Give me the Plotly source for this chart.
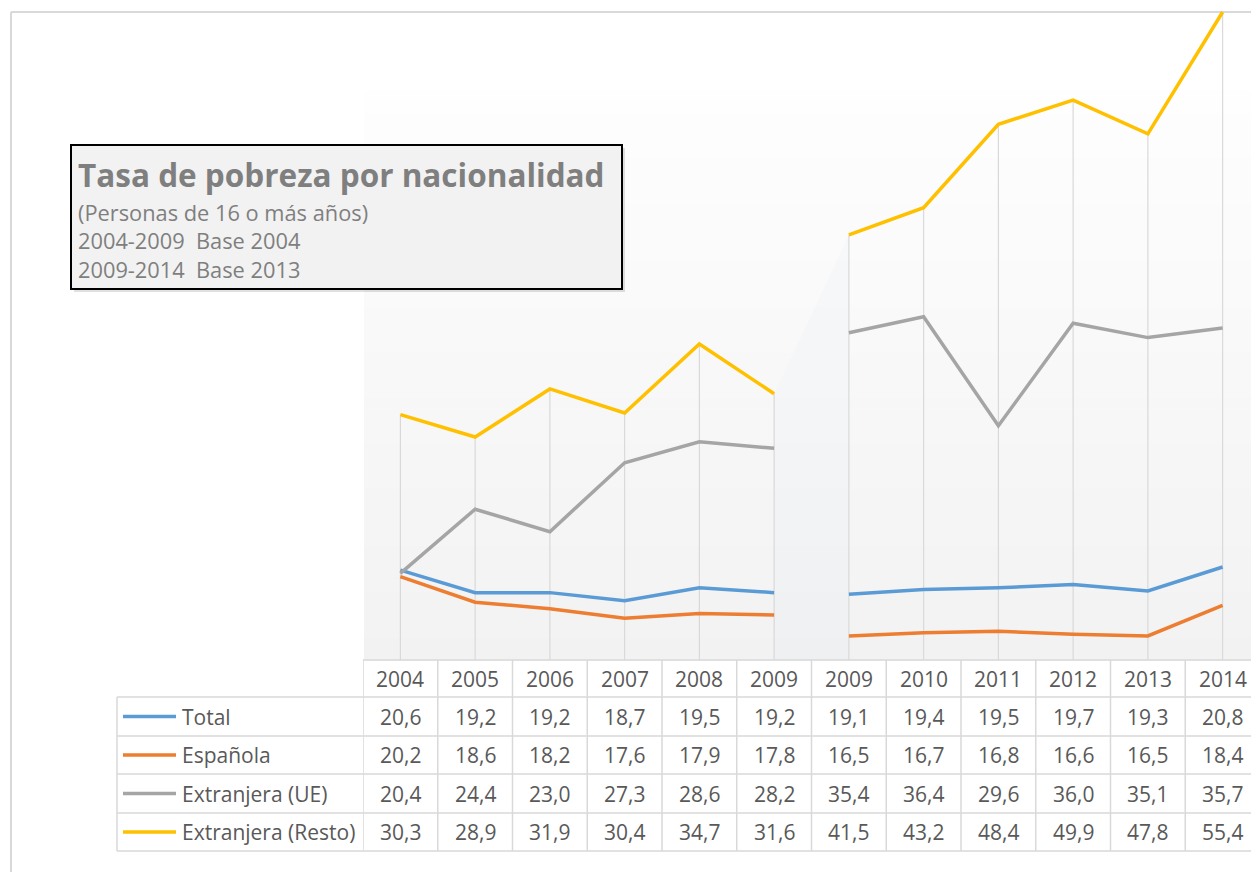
import plotly.graph_objects as go

# ---------------- data ----------------
years = ["2004", "2005", "2006", "2007", "2008", "2009",
         "2009", "2010", "2011", "2012", "2013", "2014"]
series_names = ["Total", "Española", "Extranjera (UE)", "Extranjera (Resto)"]
total = [20.6, 19.2, 19.2, 18.7, 19.5, 19.2, 19.1, 19.4, 19.5, 19.7, 19.3, 20.8]
espanola = [20.2, 18.6, 18.2, 17.6, 17.9, 17.8, 16.5, 16.7, 16.8, 16.6, 16.5, 18.4]
ext_ue = [20.4, 24.4, 23.0, 27.3, 28.6, 28.2, 35.4, 36.4, 29.6, 36.0, 35.1, 35.7]
ext_resto = [30.3, 28.9, 31.9, 30.4, 34.7, 31.6, 41.5, 43.2, 48.4, 49.9, 47.8, 55.4]
segments = [(0, 6), (6, 12)]  # 2004-2009 base 2004 | 2009-2014 base 2013

title_lines = ["Tasa de pobreza por nacionalidad",
               "(Personas de 16 o más años)",
               "2004-2009\u00a0 Base 2004",
               "2009-2014\u00a0 Base 2013"]

# ---------------- styling ----------------
W, H = 1251, 872
colors = ["#5B9BD5", "#ED7D31", "#A5A5A5", "#FFC000"]
values = [total, espanola, ext_ue, ext_resto]
FONT = "Open Sans"
TXT = "#595959"
GRID = "#D9D9D9"
TS = 21  # table font size
LW = 3.5

plot_left, plot_right = 363, W
plot_top, plot_bottom = 5, 660
col_w = 74.75
px_per_unit = 16.04
y_min = 15.0
y_max = y_min + (plot_bottom - plot_top) / px_per_unit
x_lo = -0.5
x_hi = x_lo + (plot_right - plot_left) / col_w

def px(xp):
    return xp / W

def py(yp):
    return 1 - yp / H

fig = go.Figure()
shapes = []
annotations = []

# outer chart frame
shapes.append(dict(type="line", xref="paper", yref="paper", x0=px(11), x1=1, y0=py(12), y1=py(12),
                   line=dict(color=GRID, width=2), layer="below"))
shapes.append(dict(type="line", xref="paper", yref="paper", x0=px(11), x1=px(11), y0=0, y1=py(12),
                   line=dict(color=GRID, width=2), layer="below"))

# plot-area gradient background
g_top, g_bot = 90, plot_bottom
n = 50
c_top = (254, 254, 254)
c_bot = (242, 242, 242)
for i in range(n):
    t = (i + 0.5) / n
    c = tuple(round(c_top[k] + (c_bot[k] - c_top[k]) * t) for k in range(3))
    y0p = g_top + (g_bot - g_top) * i / n
    y1p = g_top + (g_bot - g_top) * (i + 1) / n + 0.6
    shapes.append(dict(type="rect", xref="paper", yref="paper", x0=px(plot_left + 1), x1=1,
                       y0=py(y1p), y1=py(y0p), fillcolor="rgb(%d,%d,%d)" % c,
                       line=dict(width=0), layer="below"))

# subtle highlight between the two series breaks
fig.add_trace(go.Scatter(x=[5, 6, 6, 5], y=[ext_resto[5], ext_resto[6], y_min, y_min],
                         fill="toself", fillcolor="rgba(225,235,250,0.14)",
                         line=dict(width=0), mode="lines", hoverinfo="skip", showlegend=False))

# drop lines
dx, dy = [], []
for i in range(len(years)):
    m = max(v[i] for v in values)
    dx += [i, i, None]
    dy += [m, y_min, None]
fig.add_trace(go.Scatter(x=dx, y=dy, mode="lines", line=dict(color=GRID, width=1.2),
                         hoverinfo="skip", showlegend=False))

# series lines
for name, vals, col in zip(series_names, values, colors):
    for a, b in segments:
        fig.add_trace(go.Scatter(x=list(range(a, b)), y=vals[a:b], mode="lines", name=name,
                                 line=dict(color=col, width=LW), showlegend=False))

# ---------------- data table ----------------
row_edges = [660, 697, 736, 774, 813, 851]
tbl_left = 117
shapes.append(dict(type="line", xref="paper", yref="paper", x0=px(plot_left), x1=1,
                   y0=py(row_edges[0]), y1=py(row_edges[0]), line=dict(color=GRID, width=1.5)))
for r in row_edges[1:]:
    shapes.append(dict(type="line", xref="paper", yref="paper", x0=px(tbl_left), x1=1,
                       y0=py(r), y1=py(r), line=dict(color=GRID, width=1.5)))
shapes.append(dict(type="line", xref="paper", yref="paper", x0=px(tbl_left), x1=px(tbl_left),
                   y0=py(row_edges[1]), y1=py(row_edges[-1]), line=dict(color=GRID, width=1.5)))
for c in range(len(years) + 1):
    shapes.append(dict(type="line", xref="x", yref="paper", x0=c - 0.5, x1=c - 0.5,
                       y0=py(row_edges[0]), y1=py(row_edges[-1]), line=dict(color=GRID, width=1.5)))

hy = (row_edges[0] + row_edges[1]) / 2
for i, yr in enumerate(years):
    annotations.append(dict(x=i, y=py(hy), xref="x", yref="paper", text=yr, showarrow=False,
                            font=dict(family=FONT, size=TS, color=TXT), xanchor="center", yanchor="middle"))

for r, (name, vals, col) in enumerate(zip(series_names, values, colors)):
    cy = (row_edges[r + 1] + row_edges[r + 2]) / 2
    shapes.append(dict(type="line", xref="paper", yref="paper", x0=px(123), x1=px(176),
                       y0=py(cy), y1=py(cy), line=dict(color=col, width=LW)))
    annotations.append(dict(x=px(180), y=py(cy), xref="paper", yref="paper", text=name, showarrow=False,
                            font=dict(family=FONT, size=TS, color=TXT), xanchor="left", yanchor="middle"))
    for i, v in enumerate(vals):
        annotations.append(dict(x=i, y=py(cy), xref="x", yref="paper",
                                text=("%.1f" % v).replace(".", ","), showarrow=False,
                                font=dict(family=FONT, size=TS, color=TXT),
                                xanchor="center", yanchor="middle"))

# ---------------- title box ----------------
shapes.append(dict(type="rect", xref="paper", yref="paper", x0=px(74), x1=px(625), y0=py(292), y1=py(148),
                   fillcolor="rgba(0,0,0,0.12)", line=dict(width=0)))
shapes.append(dict(type="rect", xref="paper", yref="paper", x0=px(71), x1=px(622), y0=py(289), y1=py(145),
                   fillcolor="#F2F2F2", line=dict(color="#000000", width=2)))
annotations.append(dict(x=px(76), y=py(175), xref="paper", yref="paper", text="<b>%s</b>" % title_lines[0],
                        showarrow=False, font=dict(family=FONT, size=31.5, color="#7F7F7F"),
                        xanchor="left", yanchor="middle"))
for yy, line in zip([212, 241, 269], title_lines[1:]):
    annotations.append(dict(x=px(76), y=py(yy), xref="paper", yref="paper", text=line,
                            showarrow=False, font=dict(family=FONT, size=21.8, color="#7F7F7F"),
                            xanchor="left", yanchor="middle"))

fig.update_layout(
    width=W, height=H,
    margin=dict(l=0, r=0, t=0, b=0),
    paper_bgcolor="white", plot_bgcolor="rgba(0,0,0,0)",
    xaxis=dict(domain=[px(plot_left), 1], range=[x_lo, x_hi], visible=False, fixedrange=True),
    yaxis=dict(domain=[py(plot_bottom), py(plot_top)], range=[y_min, y_max], visible=False, fixedrange=True),
    shapes=shapes, annotations=annotations, showlegend=False,
    font=dict(family=FONT, color=TXT),
)

fig.write_html("out.html", config={"displayModeBar": False},
               post_script="document.body.style.margin='0px';document.body.style.overflow='hidden';")
